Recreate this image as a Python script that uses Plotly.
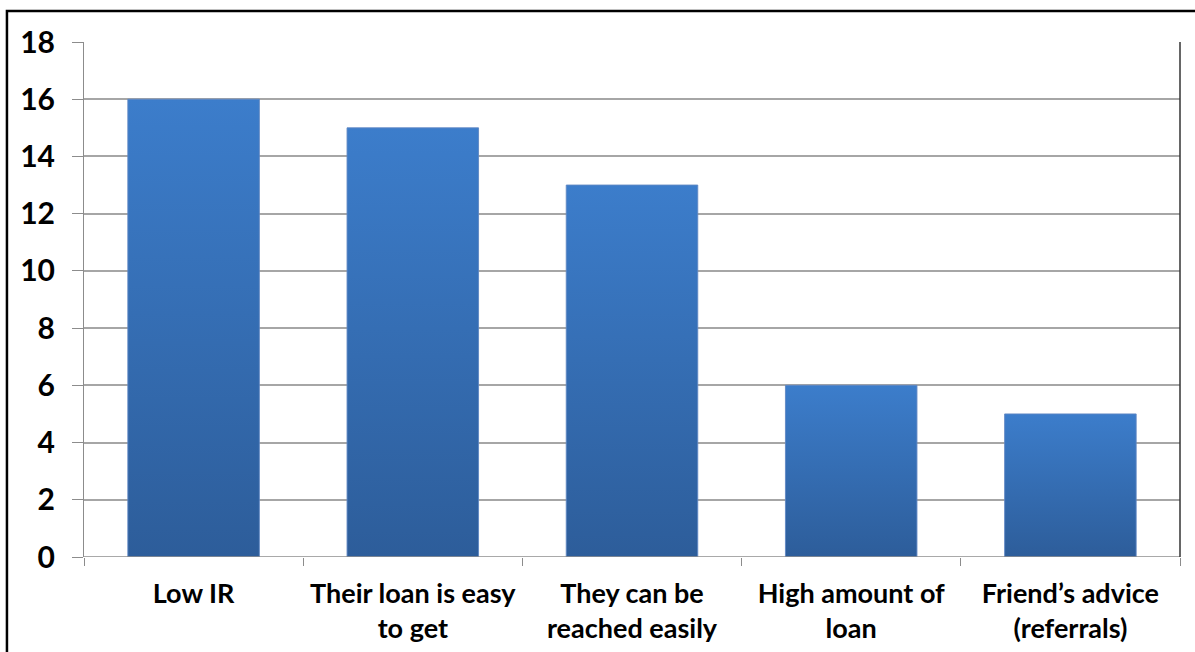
import plotly.graph_objects as go

# Reasons cited for choosing the lender
categories = ["Low IR", "Their loan is easy<br>to get", "They can be<br>reached easily",
              "High amount of<br>loan", "Friend’s advice<br>(referrals)"]
counts = [16, 15, 13, 6, 5]
y_ticks = [0, 2, 4, 6, 8, 10, 12, 14, 16, 18]

BAR_TOP = "#3c7dcb"
BAR_BOTTOM = "#2d5d9a"
HALF_WIDTH = 0.3
FONT = "Lato"

fig = go.Figure()

# Each bar is a filled rectangle with a vertical gradient spanning its own height
for i, (name, v) in enumerate(zip(categories, counts)):
    fig.add_trace(go.Scatter(
        x=[i - HALF_WIDTH, i + HALF_WIDTH, i + HALF_WIDTH, i - HALF_WIDTH, i - HALF_WIDTH],
        y=[0, 0, v, v, 0],
        mode="lines",
        fill="toself",
        fillgradient=dict(type="vertical",
                          colorscale=[[0, BAR_BOTTOM], [1, BAR_TOP]]),
        line=dict(color="rgba(95,135,195,0.9)", width=1),
        hoverinfo="skip",
        showlegend=False,
    ))

fig.update_layout(
    width=1195, height=652,
    margin=dict(l=84, r=15, t=42, b=95),
    paper_bgcolor="white", plot_bgcolor="white",
    font=dict(family=FONT, color="black"),
    showlegend=False,
    xaxis=dict(
        range=[-0.5, len(categories) - 0.5],
        tickmode="array", tickvals=list(range(len(categories))), ticktext=categories,
        ticks="", showgrid=False, zeroline=False, automargin=False,
        showline=False, ticklabelstandoff=18,
        tickfont=dict(family=FONT, size=27, color="black", weight="bold"),
        minor=dict(tick0=-0.5, dtick=1, ticks="outside", ticklen=8,
                   tickcolor="#8c8c8c", tickwidth=1, showgrid=False),
    ),
    yaxis=dict(
        range=[0, 18], tickmode="array", tickvals=y_ticks,
        ticks="outside", ticklen=11, tickcolor="#8c8c8c",
        showgrid=True, gridcolor="#a6a6a6", gridwidth=1.5,
        zeroline=False, showline=True, linecolor="#8c8c8c", linewidth=1,
        ticklabelstandoff=11, automargin=False,
        tickfont=dict(family=FONT, size=30, color="black", weight="bold"),
    ),
    shapes=[
        # baseline
        dict(type="line", xref="paper", yref="y", x0=0, x1=1, y0=0, y1=0,
             line=dict(color="#8c8c8c", width=1.5)),
        # right edge of plot area
        dict(type="line", xref="paper", yref="paper", x0=1, x1=1, y0=0, y1=1,
             line=dict(color="#333333", width=1.5)),
        # outer frame of the chart
        dict(type="rect", xref="paper", yref="paper",
             x0=-0.0703, x1=1.06, y0=-0.2, y1=1.0602,
             line=dict(color="black", width=2.5), layer="above"),
    ],
)

fig.write_html("out.html")
